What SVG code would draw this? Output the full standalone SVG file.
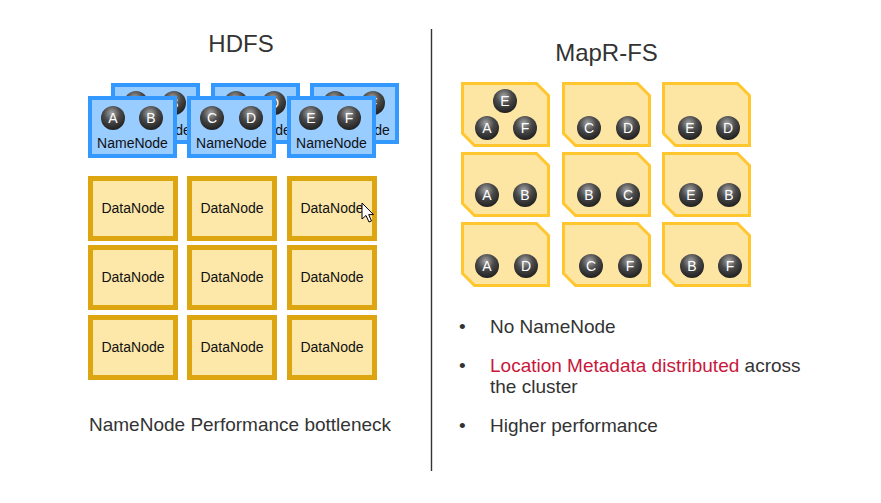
<svg xmlns="http://www.w3.org/2000/svg" width="881" height="503" viewBox="0 0 881 503">
<defs>
<radialGradient id="sph" cx="0.45" cy="0.3" r="0.75">
<stop offset="0" stop-color="#a5a5a5"/>
<stop offset="0.45" stop-color="#4a4a4a"/>
<stop offset="1" stop-color="#1a1a1a"/>
</radialGradient>
<path id="mbox" d="M1.5,1.5 H75.5 L87.5,13.5 V63.5 H13.5 L1.5,51.5 Z"/>
</defs>
<style>
text{font-family:"Liberation Sans",Arial,sans-serif;}
.title{font-size:24px;fill:#333;text-anchor:middle;}
.nn{fill:#99CCFF;stroke:#3399FF;stroke-width:4;}
.nnt{font-size:14px;fill:#111;text-anchor:middle;}
.dn{fill:#FDE8AA;stroke:#DDA610;stroke-width:5;}
.dnt{font-size:14px;fill:#111;text-anchor:middle;}
.mb{fill:#FDE5A3;stroke:#FFC62E;stroke-width:3;}
.ball{fill:url(#sph);}
.bl{font-size:14px;fill:#fff;text-anchor:middle;}
.body{font-size:19px;fill:#333;}
.red{fill:#C8173C;}
</style>
<rect width="881" height="503" fill="#fff"/>

<g id="titles">
<text class="title" x="241" y="52">HDFS</text>
<text class="title" x="606.5" y="61">MapR-FS</text>
</g>

<g id="divider"><line x1="431.5" y1="29" x2="431.5" y2="471" stroke="#333" stroke-width="1.4"/></g>

<!-- back namenodes -->
<g id="namenode-back-1">
<rect class="nn" x="113" y="85" width="85" height="57"/>
<circle class="ball" cx="136" cy="103" r="12"/><text class="bl" x="136" y="108">A</text>
<circle class="ball" cx="174" cy="103" r="12"/><text class="bl" x="174" y="108">B</text>
<text class="nnt" x="155.5" y="135">NameNode</text>
</g>
<g id="namenode-back-2">
<rect class="nn" x="213" y="85" width="85" height="57"/>
<circle class="ball" cx="236" cy="103" r="12"/><text class="bl" x="236" y="108">C</text>
<circle class="ball" cx="274" cy="103" r="12"/><text class="bl" x="274" y="108">D</text>
<text class="nnt" x="255.5" y="135">NameNode</text>
</g>
<g id="namenode-back-3">
<rect class="nn" x="312" y="85" width="85" height="57"/>
<circle class="ball" cx="335" cy="103" r="12"/><text class="bl" x="335" y="108">E</text>
<circle class="ball" cx="373" cy="103" r="12"/><text class="bl" x="373" y="108">F</text>
<text class="nnt" x="354.5" y="135">NameNode</text>
</g>
<!-- front namenodes -->
<g id="namenode-1">
<rect class="nn" x="90" y="98" width="85" height="58"/>
<circle class="ball" cx="113" cy="118" r="12"/><text class="bl" x="113" y="123">A</text>
<circle class="ball" cx="151" cy="118" r="12"/><text class="bl" x="151" y="123">B</text>
<text class="nnt" x="132.5" y="148">NameNode</text>
</g>
<g id="namenode-2">
<rect class="nn" x="189" y="98" width="85" height="58"/>
<circle class="ball" cx="212" cy="118" r="12"/><text class="bl" x="212" y="123">C</text>
<circle class="ball" cx="251" cy="118" r="12"/><text class="bl" x="251" y="123">D</text>
<text class="nnt" x="231.5" y="148">NameNode</text>
</g>
<g id="namenode-3">
<rect class="nn" x="289" y="98" width="85" height="58"/>
<circle class="ball" cx="311" cy="118" r="12"/><text class="bl" x="311" y="123">E</text>
<circle class="ball" cx="349" cy="118" r="12"/><text class="bl" x="349" y="123">F</text>
<text class="nnt" x="331.5" y="148">NameNode</text>
</g>

<!-- datanodes -->
<g id="datanode-1"><rect class="dn" x="90.5" y="178.5" width="85" height="60"/><text class="dnt" x="133" y="213">DataNode</text></g>
<g id="datanode-2"><rect class="dn" x="189.5" y="178.5" width="85" height="60"/><text class="dnt" x="232" y="213">DataNode</text></g>
<g id="datanode-3"><rect class="dn" x="289.5" y="178.5" width="85" height="60"/><text class="dnt" x="332" y="213">DataNode</text></g>
<g id="datanode-4"><rect class="dn" x="90.5" y="247.5" width="85" height="60"/><text class="dnt" x="133" y="282">DataNode</text></g>
<g id="datanode-5"><rect class="dn" x="189.5" y="247.5" width="85" height="60"/><text class="dnt" x="232" y="282">DataNode</text></g>
<g id="datanode-6"><rect class="dn" x="289.5" y="247.5" width="85" height="60"/><text class="dnt" x="332" y="282">DataNode</text></g>
<g id="datanode-7"><rect class="dn" x="90.5" y="317.5" width="85" height="60"/><text class="dnt" x="133" y="352">DataNode</text></g>
<g id="datanode-8"><rect class="dn" x="189.5" y="317.5" width="85" height="60"/><text class="dnt" x="232" y="352">DataNode</text></g>
<g id="datanode-9"><rect class="dn" x="289.5" y="317.5" width="85" height="60"/><text class="dnt" x="332" y="352">DataNode</text></g>

<g id="cursor"><path d="M362,203 L362,219 L366,215.5 L369,222 L371.5,221 L368.7,214.6 L373.5,214.6 Z" fill="#fff" stroke="#000" stroke-width="1" stroke-linejoin="round"/></g>

<text class="body" x="89" y="431">NameNode Performance bottleneck</text>

<!-- MapR boxes -->
<g id="mapr-1"><use href="#mbox" class="mb" x="461" y="82"/>
<circle class="ball" cx="505" cy="101" r="12"/><text class="bl" x="505" y="106">E</text>
<circle class="ball" cx="487" cy="128" r="12"/><text class="bl" x="487" y="133">A</text>
<circle class="ball" cx="525" cy="128" r="12"/><text class="bl" x="525" y="133">F</text></g>
<g id="mapr-2"><use href="#mbox" class="mb" x="562" y="82"/>
<circle class="ball" cx="589" cy="128" r="12"/><text class="bl" x="589" y="133">C</text>
<circle class="ball" cx="628" cy="128" r="12"/><text class="bl" x="628" y="133">D</text></g>
<g id="mapr-3"><use href="#mbox" class="mb" x="662" y="82"/>
<circle class="ball" cx="690" cy="128" r="12"/><text class="bl" x="690" y="133">E</text>
<circle class="ball" cx="728" cy="128" r="12"/><text class="bl" x="728" y="133">D</text></g>
<g id="mapr-4"><use href="#mbox" class="mb" x="461" y="152"/>
<circle class="ball" cx="487" cy="195" r="12"/><text class="bl" x="487" y="200">A</text>
<circle class="ball" cx="525" cy="195" r="12"/><text class="bl" x="525" y="200">B</text></g>
<g id="mapr-5"><use href="#mbox" class="mb" x="562" y="152"/>
<circle class="ball" cx="589" cy="195" r="12"/><text class="bl" x="589" y="200">B</text>
<circle class="ball" cx="628" cy="195" r="12"/><text class="bl" x="628" y="200">C</text></g>
<g id="mapr-6"><use href="#mbox" class="mb" x="662" y="152"/>
<circle class="ball" cx="691" cy="195" r="12"/><text class="bl" x="691" y="200">E</text>
<circle class="ball" cx="729" cy="195" r="12"/><text class="bl" x="729" y="200">B</text></g>
<g id="mapr-7"><use href="#mbox" class="mb" x="461" y="222"/>
<circle class="ball" cx="487" cy="266" r="12"/><text class="bl" x="487" y="271">A</text>
<circle class="ball" cx="526" cy="266" r="12"/><text class="bl" x="526" y="271">D</text></g>
<g id="mapr-8"><use href="#mbox" class="mb" x="562" y="222"/>
<circle class="ball" cx="591" cy="266" r="12"/><text class="bl" x="591" y="271">C</text>
<circle class="ball" cx="630" cy="266" r="12"/><text class="bl" x="630" y="271">F</text></g>
<g id="mapr-9"><use href="#mbox" class="mb" x="662" y="222"/>
<circle class="ball" cx="692" cy="266" r="12"/><text class="bl" x="692" y="271">B</text>
<circle class="ball" cx="730" cy="266" r="12"/><text class="bl" x="730" y="271">F</text></g>

<g id="bullets">
<text class="body" x="459" y="333">•</text>
<text class="body" x="490" y="333">No NameNode</text>
<text class="body" x="459" y="372">•</text>
<text class="body" x="490" y="372"><tspan class="red">Location Metadata distributed</tspan> across</text>
<text class="body" x="490" y="393">the cluster</text>
<text class="body" x="459" y="432">•</text>
<text class="body" x="490" y="432">Higher performance</text>
</g>
</svg>
